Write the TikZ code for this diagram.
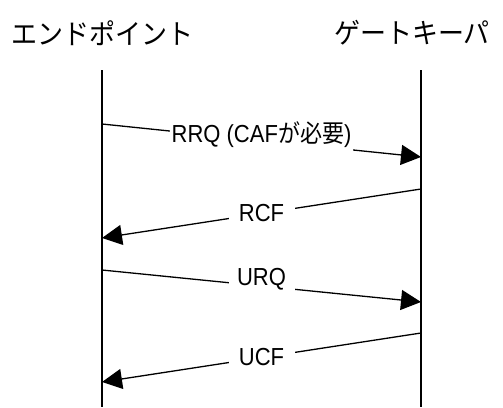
\documentclass[tikz,border=0pt]{standalone}
\usepackage{graphicx}
\usepackage{fontspec}
\setmainfont{Liberation Sans}
\newfontfamily\jp{Noto Sans CJK JP}
\usetikzlibrary{arrows.meta}
\newcommand{\vstretch}[1]{\scalebox{1}[1.12]{#1}}
\tikzset{
  title/.style={font=\jp\fontsize{26}{30}\selectfont, inner sep=0pt},
  life/.style={line width=1.3pt},
  msg/.style={line width=1.3pt, -{Triangle[length=20pt,width=20pt]}},
  lbl/.style={fill=white, font=\fontsize{22}{26}\selectfont, inner xsep=2pt, inner ysep=4pt, minimum width=66pt},
}
\begin{document}
\begin{tikzpicture}[x=1pt,y=-1pt]
\useasboundingbox (0,0) rectangle (503,407);
\node[title] (ep) at (102,33) {\scalebox{1}[1.08]{エンドポイント}};
\node[title] (gk) at (412,33) {\scalebox{1}[1.08]{ゲートキーパ}};
\coordinate (a0) at (102,70);
\coordinate (a1) at (102,407);
\coordinate (b0) at (421,70);
\coordinate (b1) at (421,407);
\draw[life] (a0) -- (a1);
\draw[life] (b0) -- (b1);
\coordinate (m1s) at (102,124);
\coordinate (m1e) at (421,157);
\coordinate (m2s) at (421,189);
\coordinate (m2e) at (102,238);
\coordinate (m3s) at (102,270);
\coordinate (m3e) at (421,302);
\coordinate (m4s) at (421,333);
\coordinate (m4e) at (102,382);
\draw[msg] (m1s) -- node[lbl, yshift=6pt] (l1) {\vstretch{RRQ (CAF{\jp が必要})}} (m1e);
\draw[msg] (m2s) -- node[lbl] (l2) {\vstretch{RCF}} (m2e);
\draw[msg] (m3s) -- node[lbl, yshift=7pt] (l3) {\vstretch{URQ}} (m3e);
\draw[msg] (m4s) -- node[lbl] (l4) {\vstretch{UCF}} (m4e);
\end{tikzpicture}
\end{document}
